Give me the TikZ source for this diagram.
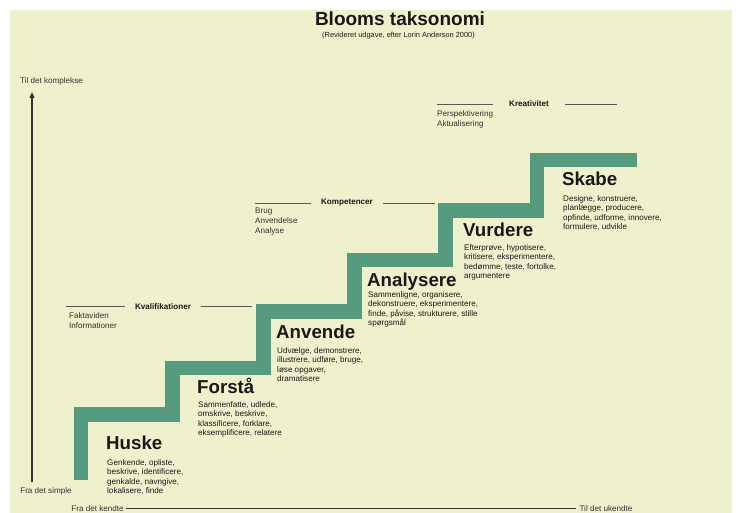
\documentclass[tikz,border=0pt]{standalone}
\usepackage{fontspec}
\setmainfont{Liberation Sans}
\usetikzlibrary{arrows.meta}
\definecolor{creme}{RGB}{239,240,204}
\definecolor{trappe}{RGB}{86,155,128}
\definecolor{tekst}{RGB}{25,25,25}

\begin{document}
\begin{tikzpicture}[x=1pt,y=-1pt]
\tikzstyle{niveau}=[anchor=base west, inner sep=0, text=tekst,
    font=\fontsize{18.7}{21}\selectfont\bfseries]
\tikzstyle{verber}=[anchor=north west, inner sep=0, align=left, text=tekst,
    font=\fontsize{8.1}{9.5}\selectfont]
\tikzstyle{overskrift}=[inner ysep=0, inner xsep=10pt, text=tekst,
    font=\fontsize{8.1}{9.5}\selectfont\bfseries]
\tikzstyle{lille}=[inner sep=0, text=black!80, font=\fontsize{8.1}{9.8}\selectfont]
\tikzstyle{streg}=[draw=black!65, line width=0.9pt]
\tikzstyle{akse}=[draw=black!80, line width=1.4pt]

\useasboundingbox (0,0) rectangle (742,513);
\fill[white] (0,0) rectangle (742,513);
\fill[creme] (10,10) rectangle (732,513);

\draw[trappe, line width=14.5pt, line join=miter] (81,480) |- (172.5,414.5)
    |- (263.5,368) |- (354.5,311.5) |- (445.5,260) |- (537,210.5) |- (637,160);

\node[anchor=base, text=tekst, font=\fontsize{19}{22}\selectfont\bfseries]
    (titel) at (400,26) {Blooms taksonomi};
\node[anchor=base, text=tekst, font=\fontsize{7.4}{9}\selectfont]
    (undertitel) at (398.5,37.4) {(Revideret udgave, efter Lorin Anderson 2000)};

% akserne
\node[lille] (kompleks) at (51.5,81) {Til det komplekse};
\node[lille] (simpel) at (46,491) {Fra det simple};
\coordinate (a0) at (32,482);
\coordinate (a1) at (32,92);
\draw[akse, -{Triangle[length=6pt,width=5pt]}] (a0) -- (a1);

\node[lille, inner xsep=2pt] (kendt) at (97.5,508.5) {Fra det kendte};
\node[lille, inner xsep=3pt] (ukendt) at (606,508.5) {Til det ukendte};
\draw[akse, line width=1.7pt] (kendt.east) -- (ukendt.west);

% overskrifter
\node[overskrift] (kval) at (163,306.5) {Kvalifikationer};
\coordinate (kval0) at (66,306.5);
\coordinate (kval1) at (252,306.5);
\draw[streg] (kval0) -- (kval.west);
\draw[streg] (kval.east) -- (kval1);
\node[lille, anchor=north west, align=left] (liste1) at (69,312.2) {Faktaviden\\Informationer};

\node[overskrift] (komp) at (347,203) {Kompetencer};
\coordinate (komp0) at (255,203);
\coordinate (komp1) at (435,203);
\draw[streg] (komp0) -- (komp.west);
\draw[streg] (komp.east) -- (komp1);
\node[lille, anchor=north west, align=left] (liste2) at (255,208.2) {Brug\\Anvendelse\\Analyse};

\node[overskrift, inner xsep=16pt] (krea) at (529,104) {Kreativitet};
\coordinate (krea0) at (437,104);
\coordinate (krea1) at (617,104);
\draw[streg] (krea0) -- (krea.west);
\draw[streg] (krea.east) -- (krea1);
\node[lille, anchor=north west, align=left] (liste3) at (437,110.2) {Perspektivering\\Aktualisering};

% trinene
\node[niveau] (n1) at (106,449) {Huske};
\node[verber] (v1) at (107,459.2) {Genkende, opliste,\\beskrive, identificere,\\genkalde, navngive,\\lokalisere, finde};

\node[niveau] (n2) at (197,393) {Forstå};
\node[verber] (v2) at (198,401.2) {Sammenfatte, udlede,\\omskrive, beskrive,\\klassificere, forklare,\\eksemplificere, relatere};

\node[niveau] (n3) at (276,338) {Anvende};
\node[verber] (v3) at (277,347.2) {Udvælge, demonstrere,\\illustrere, udføre, bruge,\\løse opgaver,\\dramatisere};

\node[niveau] (n4) at (367,287) {Analysere};
\node[verber] (v4) at (368,291.2) {Sammenligne, organisere,\\dekonstruere, eksperimentere,\\finde, påvise, strukturere, stille\\spørgsmål};

\node[niveau] (n5) at (463,237) {Vurdere};
\node[verber] (v5) at (464,244.2) {Efterprøve, hypotisere,\\kritisere, eksperimentere,\\bedømme, teste, fortolke,\\argumentere};

\node[niveau] (n6) at (562,186) {Skabe};
\node[verber] (v6) at (563,195.2) {Designe, konstruere,\\planlægge, producere,\\opfinde, udforme, innovere,\\formulere, udvikle};
\end{tikzpicture}
\end{document}
